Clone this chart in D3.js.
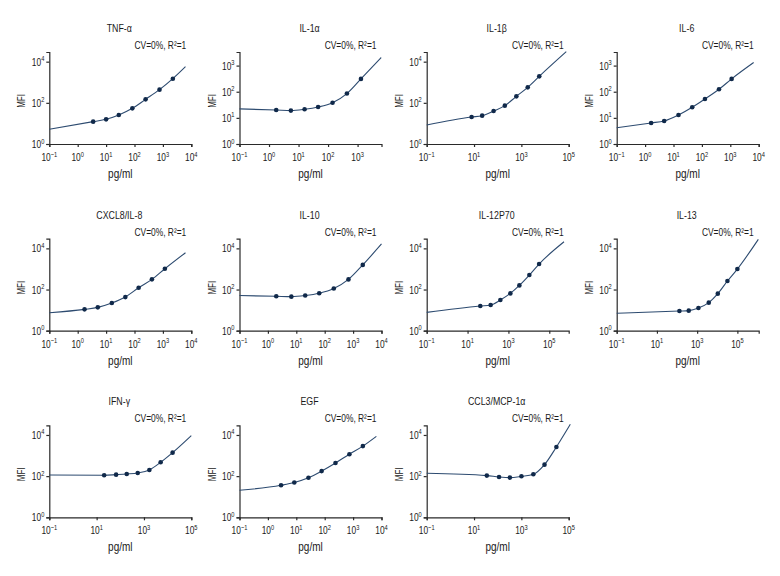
<!DOCTYPE html>
<html>
<head>
<meta charset="utf-8">
<script src="https://cdn.jsdelivr.net/npm/d3@7"></script>
<style>
  html, body { margin: 0; padding: 0; background: #fff; }
  svg { display: block; }
  text { font-family: "Liberation Sans Narrow", "Liberation Sans", Arial, sans-serif; fill: #1a1a1a; }
</style>
</head>
<body>
<svg id="chart" width="780" height="576"></svg>
<script>
// ---------- data (pg/ml concentration, MFI) ----------
const titles = ["TNF-α", "IL-1α", "IL-1β", "IL-6", "CXCL8/IL-8", "IL-10", "IL-12P70", "IL-13", "IFN-γ", "EGF", "CCL3/MCP-1α"];
const statText = "CV=0%, R²=1";

const tnfX = [3.5, 10, 28, 84, 246, 760, 2240];
const tnfY = [12.2, 15.8, 25.6, 54, 148, 436, 1490];
const tnfFit = [[0.1, 5.2], [6240, 5700]];

const il1aX = [1.75, 5.5, 16, 46, 142, 435, 1300];
const il1aY = [20, 19, 21.3, 26, 38, 85, 310];
const il1aFit = [[0.1, 22], [6300, 2040]];

const il1bX = [7.9, 22, 67, 200, 615, 1860, 5700];
const il1bY = [20.5, 23.8, 40, 73, 207, 566, 1940];
const il1bFit = [[0.1, 8.4], [79000, 30600]];

const il6X = [1.63, 4.7, 15, 45.6, 128, 400, 1114];
const il6Y = [6.4, 7.6, 12.9, 25.4, 53, 124, 310];
const il6Fit = [[0.1, 4.2], [6650, 1306]];

const il8X = [1.74, 5.1, 15.9, 47.6, 140, 411, 1175];
const il8Y = [10.9, 13.6, 22, 43, 123, 312, 1028];
const il8Fit = [[0.1, 7.5], [6240, 6150]];

const il10X = [1.97, 6.7, 20.6, 64, 209, 687, 2190];
const il10Y = [47, 45, 51, 66, 112, 310, 1570];
const il10Fit = [[0.1, 51], [10000, 16400]];

const il12X = [42, 135, 403, 1245, 3430, 10570, 31700];
const il12Y = [15.8, 17.7, 31, 65, 159, 506, 1735];
const il12Fit = [[0.1, 7.8], [525000, 21000]];

const il13X = [131, 382, 1156, 3780, 10600, 32000, 100000];
const il13Y = [9.0, 9.4, 12.6, 23, 63, 259, 991];
const il13Fit = [[0.1, 7], [1100000, 27400]];

const ifngX = [20.8, 66.5, 187, 545, 1690, 5070, 16200];
const ifngY = [110, 118, 127, 142, 199, 470, 1386];
const ifngFit = [[0.1, 114], [100000, 9300]];

const egfX = [2.9, 8.5, 26.8, 78, 240, 740, 2210];
const egfY = [36, 49, 83, 176, 436, 1163, 2880];
const egfFit = [[0.1, 20.5], [6600, 8600]];

const ccl3X = [34.7, 114, 327, 1007, 3200, 9500, 30200];
const ccl3Y = [106, 91, 85, 98, 123, 362, 2610];
const ccl3Fit = [[0.1, 137], [117000, 33000]];

// tick exponents
const xTicksEvery = [-1, 0, 1, 2, 3, 4];
const xTicksIL1a = [-1, 0, 1, 2, 3];
const xTicksOdd = [-1, 1, 3, 5];
const yTicksEven = [0, 2, 4];
const yTicksAll = [0, 1, 2, 3];

// ---------- layout ----------
const series = [
  [tnfX, tnfY, tnfFit], [il1aX, il1aY, il1aFit], [il1bX, il1bY, il1bFit], [il6X, il6Y, il6Fit],
  [il8X, il8Y, il8Fit], [il10X, il10Y, il10Fit], [il12X, il12Y, il12Fit], [il13X, il13Y, il13Fit],
  [ifngX, ifngY, ifngFit], [egfX, egfY, egfFit], [ccl3X, ccl3Y, ccl3Fit]
];
const xTickSets = [xTicksEvery, xTicksIL1a, xTicksOdd, xTicksEvery, xTicksEvery, xTicksEvery, xTicksOdd, xTicksOdd, xTicksOdd, xTicksEvery, xTicksOdd];
const yTickSets = [yTicksEven, yTicksAll, yTicksEven, yTicksAll, yTicksEven, yTicksEven, yTicksEven, yTicksEven, yTicksEven, yTicksEven, yTicksEven];
const xMaxExp = [4, 3.81, 5, 4, 4, 4, 5.95, 6.06, 5, 4, 5];
const yMaxExp = [4.47, 3.52, 4.47, 3.52, 4.47, 4.47, 4.47, 4.47, 4.47, 4.47, 4.47];

const colX = [49.3, 239.5, 426.7, 616.7];
const rowBottom = [144, 330.7, 517.3];
const plotW = 142, plotH = 92;
const SX = 0.8; // horizontal condensing of text to mimic a condensed face

const svg = d3.select("#chart");
const axisColor = "#2a2a2a";
const lineColor = "#2d4b70";
const dotColor = "#10294a";

function expStr(e) { return e < 0 ? "−" + (-e) : String(e); }

function addText(parent, x, y, anchor, size, rot, sx) {
  const gg = parent.append("g").attr("transform", `translate(${x},${y}) rotate(${rot || 0}) scale(${sx || SX},1)`);
  return gg.append("text").attr("x", 0).attr("y", 0).attr("text-anchor", anchor).attr("font-size", size);
}

function powLabel(sel, e) {
  sel.append("tspan").text("10");
  sel.append("tspan").attr("dy", -4.5).attr("font-size", 7.5).text(expStr(e));
}

series.forEach((s, i) => {
  const col = i % 4, row = Math.floor(i / 4);
  const x0 = colX[col], yb = rowBottom[row], yt = yb - plotH;
  const g = svg.append("g");

  const xs = d3.scaleLog().domain([0.1, Math.pow(10, xMaxExp[i])]).range([x0, x0 + plotW]);
  const ys = d3.scaleLog().domain([1, Math.pow(10, yMaxExp[i])]).range([yb, yt]);

  // axes
  const xAxis = d3.axisBottom(xs).tickValues(xTickSets[i].map(e => Math.pow(10, e))).tickSize(3).tickFormat("");
  const yAxis = d3.axisLeft(ys).tickValues(yTickSets[i].map(e => Math.pow(10, e))).tickSize(3).tickFormat("");
  const gx = g.append("g").attr("transform", `translate(0,${yb})`).call(xAxis);
  const gy = g.append("g").attr("transform", `translate(${x0},0)`).call(yAxis);
  [gx, gy].forEach(a => {
    a.select(".domain").attr("stroke", axisColor).attr("stroke-width", 1.2);
    a.selectAll(".tick line").attr("stroke", axisColor).attr("stroke-width", 1.2);
  });

  // tick labels
  xTickSets[i].forEach(e => {
    powLabel(addText(g, xs(Math.pow(10, e)), yb + 17, "middle", 11, 0, 0.76), e);
  });
  yTickSets[i].forEach(e => {
    powLabel(addText(g, x0 - 5, ys(Math.pow(10, e)) + 4, "end", 11, 0, 0.76), e);
  });

  // axis titles
  addText(g, x0 + plotW / 2, yb + 34, "middle", 12.5).text("pg/ml");
  addText(g, x0 - 24, yb - 43, "middle", 10, -90).text("MFI");

  // panel title and stats
  addText(g, x0 + plotW / 2 - 1, yt - 20, "middle", 11).text(titles[i]);
  addText(g, x0 + plotW - 5, yt - 3, "end", 10.5).text(statText);

  // fitted curve through knots
  const [cx, cy, fit] = s;
  const knots = [fit[0]].concat(cx.map((v, k) => [v, cy[k]])).concat([fit[1]]);
  const line = d3.line().x(d => xs(d[0])).y(d => ys(d[1])).curve(d3.curveMonotoneX);
  g.append("path").attr("d", line(knots)).attr("fill", "none")
    .attr("stroke", lineColor).attr("stroke-width", 1.1);

  g.selectAll("circle.pt").data(cx.map((v, k) => [v, cy[k]])).enter().append("circle")
    .attr("cx", d => xs(d[0])).attr("cy", d => ys(d[1])).attr("r", 2.3)
    .attr("fill", dotColor);
});
</script>
</body>
</html>
